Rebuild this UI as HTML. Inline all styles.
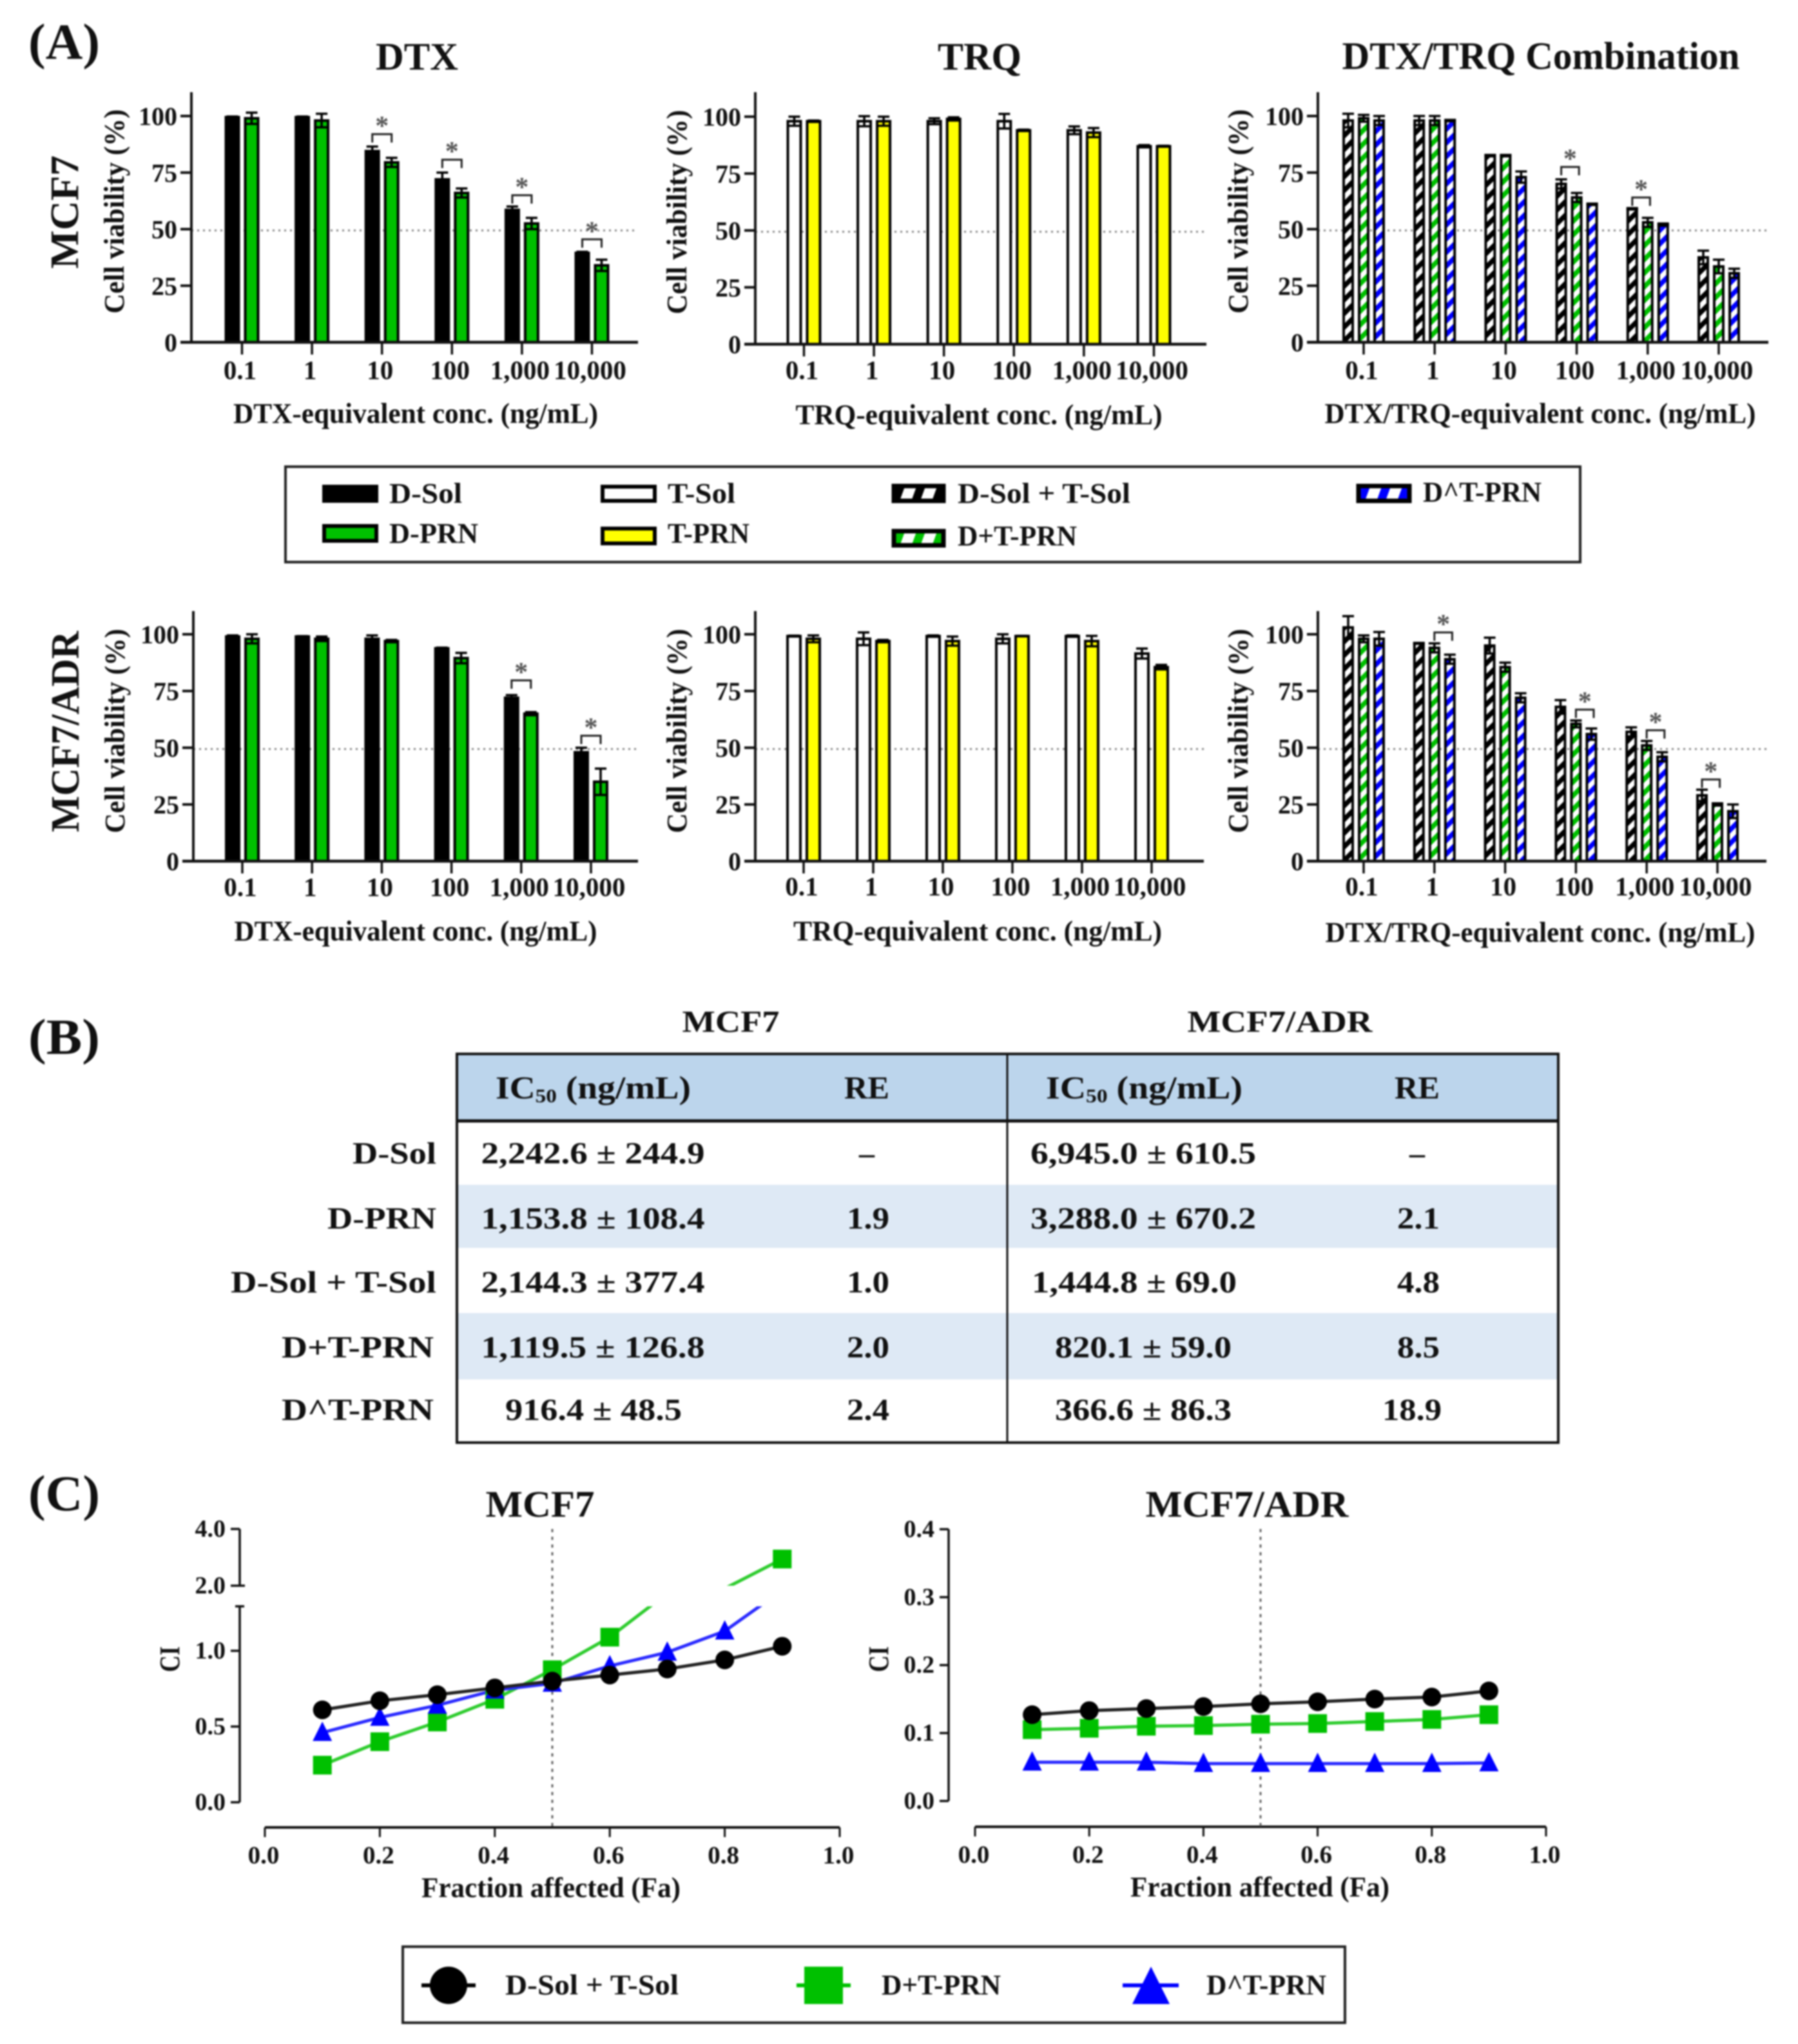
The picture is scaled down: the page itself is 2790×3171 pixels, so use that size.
<!DOCTYPE html>
<html lang="en">
<head>
<meta charset="utf-8">
<title>Cell viability, IC50 and combination index figure</title>
<style>
html,body{margin:0;padding:0;background:#fff;width:2790px;height:3171px;overflow:hidden}
#figure{display:block;filter:blur(1.2px)}
text{font-family:"Liberation Serif",serif;font-weight:bold;fill:#111}
</style>
</head>
<body>
<svg id="figure" xmlns="http://www.w3.org/2000/svg" width="2790" height="3171" viewBox="0 0 2790 3171">
<defs>
<pattern id="hatch-black" patternUnits="userSpaceOnUse" width="15" height="15" patternTransform="rotate(45)"><rect width="15" height="15" fill="#fff"/><rect width="7.5" height="15" fill="#000"/></pattern>
<pattern id="hatch-green" patternUnits="userSpaceOnUse" width="15" height="15" patternTransform="rotate(45)"><rect width="15" height="15" fill="#fff"/><rect width="7.5" height="15" fill="#00C000"/></pattern>
<pattern id="hatch-blue" patternUnits="userSpaceOnUse" width="15" height="15" patternTransform="rotate(45)"><rect width="15" height="15" fill="#fff"/><rect width="7.5" height="15" fill="#0000FF"/></pattern>
<pattern id="swatch-black" patternUnits="userSpaceOnUse" width="30" height="30" patternTransform="translate(1418.5 765) rotate(20)"><rect width="30" height="30" fill="#fff"/><rect width="13" height="30" fill="#000"/></pattern>
<pattern id="swatch-green" patternUnits="userSpaceOnUse" width="30" height="30" patternTransform="translate(1418.5 835) rotate(20)"><rect width="30" height="30" fill="#fff"/><rect width="13" height="30" fill="#00C000"/></pattern>
<pattern id="swatch-blue" patternUnits="userSpaceOnUse" width="30" height="30" patternTransform="translate(2140.5 765) rotate(20)"><rect width="30" height="30" fill="#fff"/><rect width="13" height="30" fill="#0000FF"/></pattern>
<clipPath id="clip-lower"><rect x="372" y="2492" width="1000" height="343"/></clipPath>
<clipPath id="clip-upper"><rect x="372" y="2340" width="1000" height="120"/></clipPath>
</defs>
<rect width="2790" height="3171" fill="#fff"/>

<text x="44" y="91" font-size="78" textLength="111" lengthAdjust="spacingAndGlyphs">(A)</text>
<text x="44" y="1635" font-size="78" textLength="111" lengthAdjust="spacingAndGlyphs">(B)</text>
<text x="44" y="2343" font-size="78" textLength="111" lengthAdjust="spacingAndGlyphs">(C)</text>

<text x="647" y="108" font-size="60" text-anchor="middle" textLength="128" lengthAdjust="spacingAndGlyphs">DTX</text>
<text x="1520" y="108" font-size="60" text-anchor="middle" textLength="130" lengthAdjust="spacingAndGlyphs">TRQ</text>
<text x="2391" y="107" font-size="60" text-anchor="middle" textLength="617" lengthAdjust="spacingAndGlyphs">DTX/TRQ Combination</text>

<text transform="translate(121 329) rotate(-90)" font-size="62" text-anchor="middle" textLength="176" lengthAdjust="spacingAndGlyphs">MCF7</text>
<text transform="translate(122 1135) rotate(-90)" font-size="62" text-anchor="middle" textLength="312" lengthAdjust="spacingAndGlyphs">MCF7/ADR</text>

<!-- Bar legend -->
<g>
<rect x="443" y="724" width="2009" height="148" fill="#fff" stroke="#222" stroke-width="4"/>
<rect x="500" y="752" width="87" height="28" fill="#000"/>
<text x="604" y="780" font-size="44" textLength="113" lengthAdjust="spacingAndGlyphs">D-Sol</text>
<rect x="503" y="816" width="81" height="23" fill="#00C000" stroke="#000" stroke-width="6"/>
<text x="604" y="842" font-size="44" textLength="138" lengthAdjust="spacingAndGlyphs">D-PRN</text>
<rect x="935" y="755" width="81" height="22" fill="#fff" stroke="#000" stroke-width="6"/>
<text x="1036" y="780" font-size="44" textLength="105" lengthAdjust="spacingAndGlyphs">T-Sol</text>
<rect x="935" y="820" width="81" height="23" fill="#FFFF00" stroke="#000" stroke-width="6"/>
<text x="1036" y="842" font-size="44" textLength="127" lengthAdjust="spacingAndGlyphs">T-PRN</text>
<rect x="1387" y="754" width="77" height="23" fill="url(#swatch-black)" stroke="#000" stroke-width="7"/>
<text x="1486" y="780" font-size="44" textLength="268" lengthAdjust="spacingAndGlyphs">D-Sol + T-Sol</text>
<rect x="1387" y="824" width="77" height="22" fill="url(#swatch-green)" stroke="#000" stroke-width="7"/>
<text x="1486" y="846" font-size="44" textLength="185" lengthAdjust="spacingAndGlyphs">D+T-PRN</text>
<rect x="2108" y="754" width="79" height="23" fill="url(#swatch-blue)" stroke="#000" stroke-width="7"/>
<text x="2208" y="778" font-size="44" textLength="184" lengthAdjust="spacingAndGlyphs">D^T-PRN</text>
</g>

<!-- IC50 table -->
<g>
<text x="1134" y="1601" font-size="48" text-anchor="middle" textLength="151" lengthAdjust="spacingAndGlyphs">MCF7</text>
<text x="1986" y="1601" font-size="48" text-anchor="middle" textLength="287" lengthAdjust="spacingAndGlyphs">MCF7/ADR</text>
<rect x="709" y="1635" width="1709" height="104" fill="#BCD5EC"/>
<rect x="709" y="1838" width="1709" height="98" fill="#DEE9F5"/>
<rect x="709" y="2037" width="1709" height="103" fill="#DEE9F5"/>
<rect x="709" y="1635" width="1709" height="603" fill="none" stroke="#111" stroke-width="4"/>
<line x1="709" x2="2418" y1="1739" y2="1739" stroke="#111" stroke-width="5"/>
<line x1="1563" x2="1563" y1="1635" y2="2238" stroke="#111" stroke-width="3"/>
<text x="769" y="1704" font-size="50" textLength="303" lengthAdjust="spacingAndGlyphs">IC<tspan font-size="30" dy="6">50</tspan><tspan dy="-6"> (ng/mL)</tspan></text>
<text x="1345" y="1704" font-size="50" text-anchor="middle" textLength="70" lengthAdjust="spacingAndGlyphs">RE</text>
<text x="1623" y="1704" font-size="50" textLength="305" lengthAdjust="spacingAndGlyphs">IC<tspan font-size="30" dy="6">50</tspan><tspan dy="-6"> (ng/mL)</tspan></text>
<text x="2199" y="1704" font-size="50" text-anchor="middle" textLength="70" lengthAdjust="spacingAndGlyphs">RE</text>

<text x="677" y="1805" font-size="48" text-anchor="end" textLength="130" lengthAdjust="spacingAndGlyphs">D-Sol</text>
<text x="920" y="1805" font-size="48" text-anchor="middle" textLength="347" lengthAdjust="spacingAndGlyphs">2,242.6 ± 244.9</text>
<text x="1345" y="1805" font-size="48" text-anchor="middle">–</text>
<text x="1774" y="1805" font-size="48" text-anchor="middle" textLength="350" lengthAdjust="spacingAndGlyphs">6,945.0 ± 610.5</text>
<text x="2199" y="1805" font-size="48" text-anchor="middle">–</text>

<text x="677" y="1906" font-size="48" text-anchor="end" textLength="169" lengthAdjust="spacingAndGlyphs">D-PRN</text>
<text x="920" y="1906" font-size="48" text-anchor="middle" textLength="347" lengthAdjust="spacingAndGlyphs">1,153.8 ± 108.4</text>
<text x="1347" y="1906" font-size="48" text-anchor="middle" textLength="66" lengthAdjust="spacingAndGlyphs">1.9</text>
<text x="1774" y="1906" font-size="48" text-anchor="middle" textLength="350" lengthAdjust="spacingAndGlyphs">3,288.0 ± 670.2</text>
<text x="2201" y="1906" font-size="48" text-anchor="middle" textLength="66" lengthAdjust="spacingAndGlyphs">2.1</text>

<text x="677" y="2005" font-size="48" text-anchor="end" textLength="319" lengthAdjust="spacingAndGlyphs">D-Sol + T-Sol</text>
<text x="920" y="2005" font-size="48" text-anchor="middle" textLength="347" lengthAdjust="spacingAndGlyphs">2,144.3 ± 377.4</text>
<text x="1347" y="2005" font-size="48" text-anchor="middle" textLength="66" lengthAdjust="spacingAndGlyphs">1.0</text>
<text x="1760" y="2005" font-size="48" text-anchor="middle" textLength="318" lengthAdjust="spacingAndGlyphs">1,444.8 ± 69.0</text>
<text x="2201" y="2005" font-size="48" text-anchor="middle" textLength="66" lengthAdjust="spacingAndGlyphs">4.8</text>

<text x="673" y="2106" font-size="48" text-anchor="end" textLength="236" lengthAdjust="spacingAndGlyphs">D+T-PRN</text>
<text x="920" y="2106" font-size="48" text-anchor="middle" textLength="347" lengthAdjust="spacingAndGlyphs">1,119.5 ± 126.8</text>
<text x="1347" y="2106" font-size="48" text-anchor="middle" textLength="66" lengthAdjust="spacingAndGlyphs">2.0</text>
<text x="1774" y="2106" font-size="48" text-anchor="middle" textLength="274" lengthAdjust="spacingAndGlyphs">820.1 ± 59.0</text>
<text x="2201" y="2106" font-size="48" text-anchor="middle" textLength="66" lengthAdjust="spacingAndGlyphs">8.5</text>

<text x="673" y="2203" font-size="48" text-anchor="end" textLength="236" lengthAdjust="spacingAndGlyphs">D^T-PRN</text>
<text x="921" y="2203" font-size="48" text-anchor="middle" textLength="274" lengthAdjust="spacingAndGlyphs">916.4 ± 48.5</text>
<text x="1347" y="2203" font-size="48" text-anchor="middle" textLength="66" lengthAdjust="spacingAndGlyphs">2.4</text>
<text x="1774" y="2203" font-size="48" text-anchor="middle" textLength="274" lengthAdjust="spacingAndGlyphs">366.6 ± 86.3</text>
<text x="2191" y="2203" font-size="48" text-anchor="middle" textLength="92" lengthAdjust="spacingAndGlyphs">18.9</text>
</g>

<!-- Line legend -->
<g>
<rect x="625" y="3020" width="1462" height="118" fill="#fff" stroke="#222" stroke-width="4"/>
<line x1="654" x2="738" y1="3080" y2="3080" stroke="#000" stroke-width="6"/>
<circle cx="696" cy="3080" r="29" fill="#000"/>
<text x="784" y="3094" font-size="44" textLength="269" lengthAdjust="spacingAndGlyphs">D-Sol + T-Sol</text>
<line x1="1236" x2="1320" y1="3080" y2="3080" stroke="#00C000" stroke-width="6"/>
<rect x="1248" y="3051" width="60" height="58" fill="#00C000"/>
<text x="1368" y="3094" font-size="44" textLength="185" lengthAdjust="spacingAndGlyphs">D+T-PRN</text>
<line x1="1742" x2="1829" y1="3080" y2="3080" stroke="#0000FF" stroke-width="6"/>
<polygon points="1786,3051 1757,3109 1815,3109" fill="#0000FF"/>
<text x="1872" y="3094" font-size="44" textLength="186" lengthAdjust="spacingAndGlyphs">D^T-PRN</text>
</g>

<text x="838" y="2353" font-size="58" text-anchor="middle" textLength="169" lengthAdjust="spacingAndGlyphs">MCF7</text>
<text x="1935" y="2353" font-size="58" text-anchor="middle" textLength="315" lengthAdjust="spacingAndGlyphs">MCF7/ADR</text>
<g id="charts"></g>
</svg>

<script>
/* ---- Bar chart data (cell viability, %) ---- */
const concLabels = ['0.1', '1', '10', '100', '1,000', '10,000'];
const viabilityTicks = [0, 25, 50, 75, 100];
const cutoffLine = 50;

const mcf7DSol = [99.5, 99.5, 84.5, 72, 58.5, 39.5];
const mcf7DSolErr = [0.3, 0.3, 2, 3, 1.5, 0.5];
const mcf7DPrn = [99, 98, 79.5, 66, 52.5, 34];
const mcf7DPrnErr = [2.5, 3, 2, 2, 2.5, 2.5];
const mcf7DtxSigGroups = [2, 3, 4, 5];
const mcf7DtxSigLevels = [92, 80.7, 65, 45.5];

const mcf7TSol = [98, 98, 98, 98, 94, 87];
const mcf7TSolErr = [2, 2.2, 1.3, 3.2, 1.7, 0.5];
const mcf7TPrn = [98, 98, 99, 94, 93, 87];
const mcf7TPrnErr = [0.3, 2, 0.7, 0.3, 2, 0.2];

const mcf7Combo = [98, 98, 82.5, 70, 59, 37.5];
const mcf7ComboErr = [3, 2, 0.3, 2, 0.3, 3];
const mcf7Plus = [99, 98, 82.5, 64, 53, 33.5];
const mcf7PlusErr = [1.5, 2, 0.3, 2, 2, 3];
const mcf7Caret = [98, 98, 73, 61, 52, 30.5];
const mcf7CaretErr = [2, 0.3, 2.5, 0.3, 0.5, 2];
const mcf7ComboSigGroups = [3, 4];
const mcf7ComboSigLevels = [77.5, 64];

const adrDSol = [99, 99, 98, 93.8, 72, 48];
const adrDSolErr = [0.5, 0.2, 1.5, 0.3, 1.2, 2];
const adrDPrn = [98, 98, 97, 89.5, 65, 35];
const adrDPrnErr = [2, 1, 0.5, 2.3, 0.7, 5.8];
const adrDtxSigGroups = [4, 5];
const adrDtxSigLevels = [79.7, 55.3];

const adrTSol = [99.2, 98, 99.2, 98, 99.2, 91.5];
const adrTSolErr = [0.2, 2.8, 0.3, 2, 0.3, 2.2];
const adrTPrn = [98, 97, 97, 99.2, 97, 85.5];
const adrTPrnErr = [1.5, 0.5, 2, 0.1, 2.3, 1];

const adrCombo = [103, 96, 95, 68, 57, 29];
const adrComboErr = [5, 0.2, 3.5, 3, 2, 2.5];
const adrPlus = [98, 94, 85.5, 60.5, 51, 25];
const adrPlusErr = [1.5, 2, 2, 1.5, 2, 0.5];
const adrCaret = [98, 89, 72, 56, 46, 22];
const adrCaretErr = [3, 2, 2, 2.5, 2, 3];
const adrComboSigGroups = [1, 3, 4, 5];
const adrComboSigLevels = [100.8, 66.8, 57.7, 36];
const adrComboSigFirstBars = [1, 1, 1, 0];

/* ---- Line chart data (combination index) ---- */
const faValues = [0.1, 0.2, 0.3, 0.4, 0.5, 0.6, 0.7, 0.8, 0.9];
const faTicks = [0, 0.2, 0.4, 0.6, 0.8, 1.0];
const ciMcf7Combo = [0.61, 0.67, 0.71, 0.755, 0.80, 0.84, 0.88, 0.94, 1.03];
const ciMcf7Plus = [0.245, 0.40, 0.53, 0.68, 0.875, 1.09, 1.38, 1.9, 2.94];
const ciMcf7Caret = [0.46, 0.56, 0.64, 0.74, 0.785, 0.90, 0.99, 1.13, 1.40];
const ciMcf7LowerTicks = [0, 0.5, 1.0];
const ciMcf7UpperTicks = [2.0, 4.0];
const ciAdrCombo = [0.127, 0.133, 0.136, 0.139, 0.143, 0.146, 0.150, 0.153, 0.162];
const ciAdrPlus = [0.105, 0.107, 0.110, 0.111, 0.113, 0.114, 0.117, 0.120, 0.127];
const ciAdrCaret = [0.057, 0.057, 0.057, 0.055, 0.055, 0.055, 0.055, 0.055, 0.056];
const ciAdrTicks = [0, 0.1, 0.2, 0.3, 0.4];

const SVGNS = 'http://www.w3.org/2000/svg';
const root = document.getElementById('charts');

function mk(parent, tag, attrs, name, content) {
  const el = document.createElementNS(SVGNS, tag);
  for (const k in attrs) el.setAttribute(k, attrs[k]);
  
  
  if (content !== undefined) el.textContent = content;
  parent.appendChild(el);
  return el;
}

function barPanel(cfg) {
  const g = mk(root, 'g', {}, cfg.name);
  const y = v => cfg.y0 - v * (cfg.y0 - cfg.y100) / 100;
  const x = i => cfg.cx + i * cfg.step;
  const n = cfg.series.length;

  mk(g, 'line', {x1: cfg.axisX, x2: cfg.right, y1: y(cutoffLine) + 2, y2: y(cutoffLine) + 2, stroke: '#888', 'stroke-width': 3, 'stroke-dasharray': '3 6'}, cfg.name + '-cutoff-line');

  cfg.series.forEach((s, si) => {
    s.values.forEach((v, i) => {
      const cxBar = x(i) + (si - (n - 1) / 2) * cfg.pitch;
      const top = y(v), ey = y(v + s.errs[i]), eb = y(v - s.errs[i]);
      mk(g, 'rect', {x: cxBar - cfg.barW / 2, y: top, width: cfg.barW, height: cfg.y0 - top, fill: s.fill, stroke: '#000', 'stroke-width': 4}, cfg.name + '-bar-' + s.key + '-' + i);
      mk(g, 'path', {d: 'M' + (cxBar - 9) + ' ' + ey + 'H' + (cxBar + 9) + 'M' + cxBar + ' ' + ey + 'V' + eb + 'M' + (cxBar - 9) + ' ' + eb + 'H' + (cxBar + 9), stroke: '#000', 'stroke-width': 3.5, fill: 'none'}, cfg.name + '-error-' + s.key + '-' + i);
    });
  });

  mk(g, 'line', {x1: cfg.axisX, x2: cfg.axisX, y1: cfg.top, y2: cfg.y0 + 2, stroke: '#111', 'stroke-width': 4}, cfg.name + '-y-axis');
  mk(g, 'line', {x1: cfg.axisX - 17, x2: cfg.right, y1: cfg.y0, y2: cfg.y0, stroke: '#111', 'stroke-width': 4.5}, cfg.name + '-x-axis');

  viabilityTicks.forEach(t => {
    mk(g, 'line', {x1: cfg.axisX - 17, x2: cfg.axisX, y1: y(t), y2: y(t), stroke: '#111', 'stroke-width': 4}, cfg.name + '-y-tick-' + t);
    mk(g, 'text', {x: cfg.axisX - 22, y: y(t) + 14, 'font-size': 40, 'text-anchor': 'end'}, cfg.name + '-y-tick-label-' + t, String(t));
  });
  concLabels.forEach((c, i) => {
    mk(g, 'line', {x1: x(i), x2: x(i), y1: cfg.y0, y2: cfg.y0 + 19, stroke: '#111', 'stroke-width': 3.5}, cfg.name + '-x-tick-' + i);
    mk(g, 'text', {x: x(i) - 3, y: cfg.tickBase - 2, 'font-size': 41, 'text-anchor': 'middle'}, cfg.name + '-x-tick-label-' + i, c);
  });

  mk(g, 'text', {x: cfg.xLabelX, y: cfg.xLabelY, 'font-size': 44, 'text-anchor': 'middle', textLength: cfg.xLabelW, lengthAdjust: 'spacingAndGlyphs'}, cfg.name + '-x-axis-title', cfg.xLabel);
  mk(g, 'text', {transform: 'translate(' + (cfg.yLabelX - 3) + ' ' + cfg.yLabelY + ') rotate(-90)', 'font-size': 44, 'text-anchor': 'middle', textLength: 317, lengthAdjust: 'spacingAndGlyphs'}, cfg.name + '-y-axis-title', 'Cell viability (%)');

  (cfg.sigGroups || []).forEach((gi, k) => {
    const first = cfg.sigFirst ? cfg.sigFirst[k] : 0;
    const x1 = x(gi) + (first - (n - 1) / 2) * cfg.pitch;
    const x2 = x1 + cfg.pitch * (n === 2 ? 1 : 1.15);
    const yt = y(cfg.sigLevels[k]);
    mk(g, 'path', {d: 'M' + x1 + ' ' + (yt + 13) + 'V' + yt + 'H' + x2 + 'V' + (yt + 13), stroke: '#222', 'stroke-width': 3, fill: 'none'}, cfg.name + '-bracket-' + gi);
    const star = mk(g, 'text', {x: (x1 + x2) / 2, y: yt + 1, 'font-size': 42, 'text-anchor': 'middle'}, cfg.name + '-significance-' + gi, '*');
    star.style.fill = '#555';
  });
}

const FILLS = {black: '#000', green: '#00C000', white: '#fff', yellow: '#FFFF00', hb: 'url(#hatch-black)', hg: 'url(#hatch-green)', hu: 'url(#hatch-blue)'};

barPanel({name: 'mcf7-dtx-chart', axisX: 297, right: 990, top: 143, y0: 531, y100: 180, cx: 375.5, step: 108.6, barW: 20, pitch: 30, tickBase: 590,
  xLabel: 'DTX-equivalent conc. (ng/mL)', xLabelX: 645, xLabelY: 656, xLabelW: 566, yLabelX: 195, yLabelY: 328,
  series: [{key: 'd-sol', values: mcf7DSol, errs: mcf7DSolErr, fill: FILLS.black}, {key: 'd-prn', values: mcf7DPrn, errs: mcf7DPrnErr, fill: FILLS.green}],
  sigGroups: mcf7DtxSigGroups, sigLevels: mcf7DtxSigLevels});

barPanel({name: 'mcf7-trq-chart', axisX: 1172, right: 1872, top: 143, y0: 534, y100: 181, cx: 1247.5, step: 108.6, barW: 20, pitch: 30, tickBase: 590,
  xLabel: 'TRQ-equivalent conc. (ng/mL)', xLabelX: 1519, xLabelY: 658, xLabelW: 569, yLabelX: 1068, yLabelY: 329,
  series: [{key: 't-sol', values: mcf7TSol, errs: mcf7TSolErr, fill: FILLS.white}, {key: 't-prn', values: mcf7TPrn, errs: mcf7TPrnErr, fill: FILLS.yellow}]});

barPanel({name: 'mcf7-combo-chart', axisX: 2045, right: 2744, top: 143, y0: 531, y100: 180, cx: 2116, step: 110.2, barW: 14, pitch: 24, tickBase: 590,
  xLabel: 'DTX/TRQ-equivalent conc. (ng/mL)', xLabelX: 2390, xLabelY: 656, xLabelW: 669, yLabelX: 1939, yLabelY: 328,
  series: [{key: 'combo', values: mcf7Combo, errs: mcf7ComboErr, fill: FILLS.hb}, {key: 'plus', values: mcf7Plus, errs: mcf7PlusErr, fill: FILLS.hg}, {key: 'caret', values: mcf7Caret, errs: mcf7CaretErr, fill: FILLS.hu}],
  sigGroups: mcf7ComboSigGroups, sigLevels: mcf7ComboSigLevels});

barPanel({name: 'adr-dtx-chart', axisX: 300, right: 990, top: 948, y0: 1336, y100: 984, cx: 376, step: 108.2, barW: 20, pitch: 30, tickBase: 1392,
  xLabel: 'DTX-equivalent conc. (ng/mL)', xLabelX: 645, xLabelY: 1459, xLabelW: 563, yLabelX: 196, yLabelY: 1134,
  series: [{key: 'd-sol', values: adrDSol, errs: adrDSolErr, fill: FILLS.black}, {key: 'd-prn', values: adrDPrn, errs: adrDPrnErr, fill: FILLS.green}],
  sigGroups: adrDtxSigGroups, sigLevels: adrDtxSigLevels});

barPanel({name: 'adr-trq-chart', axisX: 1172, right: 1868, top: 948, y0: 1336, y100: 984, cx: 1247, step: 108, barW: 20, pitch: 30, tickBase: 1391,
  xLabel: 'TRQ-equivalent conc.  (ng/mL)', xLabelX: 1517, xLabelY: 1459, xLabelW: 572, yLabelX: 1068, yLabelY: 1134,
  series: [{key: 't-sol', values: adrTSol, errs: adrTSolErr, fill: FILLS.white}, {key: 't-prn', values: adrTPrn, errs: adrTPrnErr, fill: FILLS.yellow}]});

barPanel({name: 'adr-combo-chart', axisX: 2045, right: 2741, top: 948, y0: 1336, y100: 984, cx: 2116, step: 109.8, barW: 14, pitch: 24, tickBase: 1391,
  xLabel: 'DTX/TRQ-equivalent conc. (ng/mL)', xLabelX: 2390, xLabelY: 1461, xLabelW: 667, yLabelX: 1939, yLabelY: 1134,
  series: [{key: 'combo', values: adrCombo, errs: adrComboErr, fill: FILLS.hb}, {key: 'plus', values: adrPlus, errs: adrPlusErr, fill: FILLS.hg}, {key: 'caret', values: adrCaret, errs: adrCaretErr, fill: FILLS.hu}],
  sigGroups: adrComboSigGroups, sigLevels: adrComboSigLevels, sigFirst: adrComboSigFirstBars});

function marker(g, kind, cx, cy, color, name) {
  if (kind === 'circle') mk(g, 'circle', {cx: cx, cy: cy, r: 14.5, fill: color}, name);
  else if (kind === 'square') mk(g, 'rect', {x: cx - 14.5, y: cy - 14.5, width: 29, height: 29, fill: color}, name);
  else mk(g, 'polygon', {points: cx + ',' + (cy - 17) + ' ' + (cx - 15) + ',' + (cy + 13) + ' ' + (cx + 15) + ',' + (cy + 13), fill: color}, name);
}

function ciAxes(g, cfg, name, x) {
  mk(g, 'line', {x1: x(0), x2: x(1), y1: cfg.xAxisY, y2: cfg.xAxisY, stroke: '#111', 'stroke-width': 4}, name + '-x-axis');
  faTicks.forEach(t => {
    mk(g, 'line', {x1: x(t), x2: x(t), y1: cfg.xAxisY, y2: cfg.xAxisY + 15, stroke: '#111', 'stroke-width': 3}, name + '-x-tick-' + t);
    mk(g, 'text', {x: x(t) - 2, y: cfg.xAxisY + 56, 'font-size': 39, 'text-anchor': 'middle'}, name + '-x-tick-label-' + t, t.toFixed(1));
  });
  mk(g, 'line', {x1: x(0.5), x2: x(0.5), y1: 2372, y2: cfg.xAxisY, stroke: '#666', 'stroke-width': 3, 'stroke-dasharray': '5 7'}, name + '-fa-50-line');
  mk(g, 'text', {x: cfg.labelX, y: cfg.xAxisY + 108, 'font-size': 44, 'text-anchor': 'middle', textLength: 402, lengthAdjust: 'spacingAndGlyphs'}, name + '-x-axis-title', 'Fraction affected (Fa)');
  mk(g, 'text', {transform: 'translate(' + cfg.ciX + ' 2574) rotate(-90)', 'font-size': 44, 'text-anchor': 'middle', textLength: 40, lengthAdjust: 'spacingAndGlyphs'}, name + '-y-axis-title', 'CI');
}

function yTick(g, axisX, yPos, label, name) {
  mk(g, 'line', {x1: axisX - 14, x2: axisX, y1: yPos, y2: yPos, stroke: '#111', 'stroke-width': 3.5}, name + '-y-tick-' + label);
  mk(g, 'text', {x: axisX - 22, y: yPos + 12, 'font-size': 38, 'text-anchor': 'end'}, name + '-y-tick-label-' + label, label);
}

function polyPoints(values, x, y) {
  return values.map((v, i) => x(faValues[i]) + ',' + y(v)).join(' ');
}

/* MCF7 CI chart with a broken y axis */
(function () {
  const name = 'ci-mcf7-chart';
  const g = mk(root, 'g', {}, name);
  const x = v => 411 + v * 892;
  const yLow = v => 2796 - v * 235;
  const yHigh = v => 2460 - (v - 2) * 44;
  const lowMax = 1.29, highMin = 2;
  ciAxes(g, {xAxisY: 2835, labelX: 855, ciX: 278}, name, x);
  mk(g, 'line', {x1: 372, x2: 372, y1: yLow(0), y2: 2492, stroke: '#111', 'stroke-width': 3.5}, name + '-y-axis-lower');
  mk(g, 'line', {x1: 372, x2: 372, y1: 2460, y2: 2372, stroke: '#111', 'stroke-width': 3.5}, name + '-y-axis-upper');
  mk(g, 'line', {x1: 365, x2: 379, y1: 2492, y2: 2492, stroke: '#111', 'stroke-width': 3.5}, name + '-axis-break-lower');
  mk(g, 'line', {x1: 372, x2: 380, y1: 2460, y2: 2460, stroke: '#111', 'stroke-width': 3.5}, name + '-axis-break-upper');
  ciMcf7LowerTicks.forEach(t => yTick(g, 372, yLow(t), t.toFixed(1), name));
  ciMcf7UpperTicks.forEach(t => yTick(g, 372, yHigh(t), t.toFixed(1), name));
  const series = [
    {key: 'd-t-prn-plus', values: ciMcf7Plus, color: '#00C000', line: '#2ECC2E', kind: 'square'},
    {key: 'd-t-prn-caret', values: ciMcf7Caret, color: '#0000FF', line: '#2A2AFF', kind: 'triangle'},
    {key: 'd-sol-t-sol', values: ciMcf7Combo, color: '#000', line: '#222', kind: 'circle'}
  ];
  series.forEach(s => {
    mk(g, 'polyline', {points: polyPoints(s.values, x, yLow), fill: 'none', stroke: s.line, 'stroke-width': 5, 'clip-path': 'url(#clip-lower)'}, name + '-line-lower-' + s.key);
    mk(g, 'polyline', {points: polyPoints(s.values, x, yHigh), fill: 'none', stroke: s.line, 'stroke-width': 5, 'clip-path': 'url(#clip-upper)'}, name + '-line-upper-' + s.key);
  });
  series.forEach(s => {
    s.values.forEach((v, i) => {
      if (v <= lowMax) marker(g, s.kind, x(faValues[i]), yLow(v), s.color, name + '-point-' + s.key + '-' + i);
      else if (v >= highMin) marker(g, s.kind, x(faValues[i]), yHigh(v), s.color, name + '-point-' + s.key + '-' + i);
    });
  });
})();

/* MCF7/ADR CI chart */
(function () {
  const name = 'ci-adr-chart';
  const g = mk(root, 'g', {}, name);
  const x = v => 1513 + v * 886;
  const y = v => 2794 - v * 1054;
  ciAxes(g, {xAxisY: 2834, labelX: 1955, ciX: 1378}, name, x);
  mk(g, 'line', {x1: 1472, x2: 1472, y1: y(0), y2: y(0.4), stroke: '#111', 'stroke-width': 3.5}, name + '-y-axis');
  ciAdrTicks.forEach(t => yTick(g, 1472, y(t), t.toFixed(1), name));
  const series = [
    {key: 'd-t-prn-caret', values: ciAdrCaret, color: '#0000FF', line: '#2A2AFF', kind: 'triangle'},
    {key: 'd-t-prn-plus', values: ciAdrPlus, color: '#00C000', line: '#2ECC2E', kind: 'square'},
    {key: 'd-sol-t-sol', values: ciAdrCombo, color: '#000', line: '#222', kind: 'circle'}
  ];
  series.forEach(s => {
    mk(g, 'polyline', {points: polyPoints(s.values, x, y), fill: 'none', stroke: s.line, 'stroke-width': 5}, name + '-line-' + s.key);
    s.values.forEach((v, i) => marker(g, s.kind, x(faValues[i]), y(v), s.color, name + '-point-' + s.key + '-' + i));
  });
})();
</script>
</body>
</html>
